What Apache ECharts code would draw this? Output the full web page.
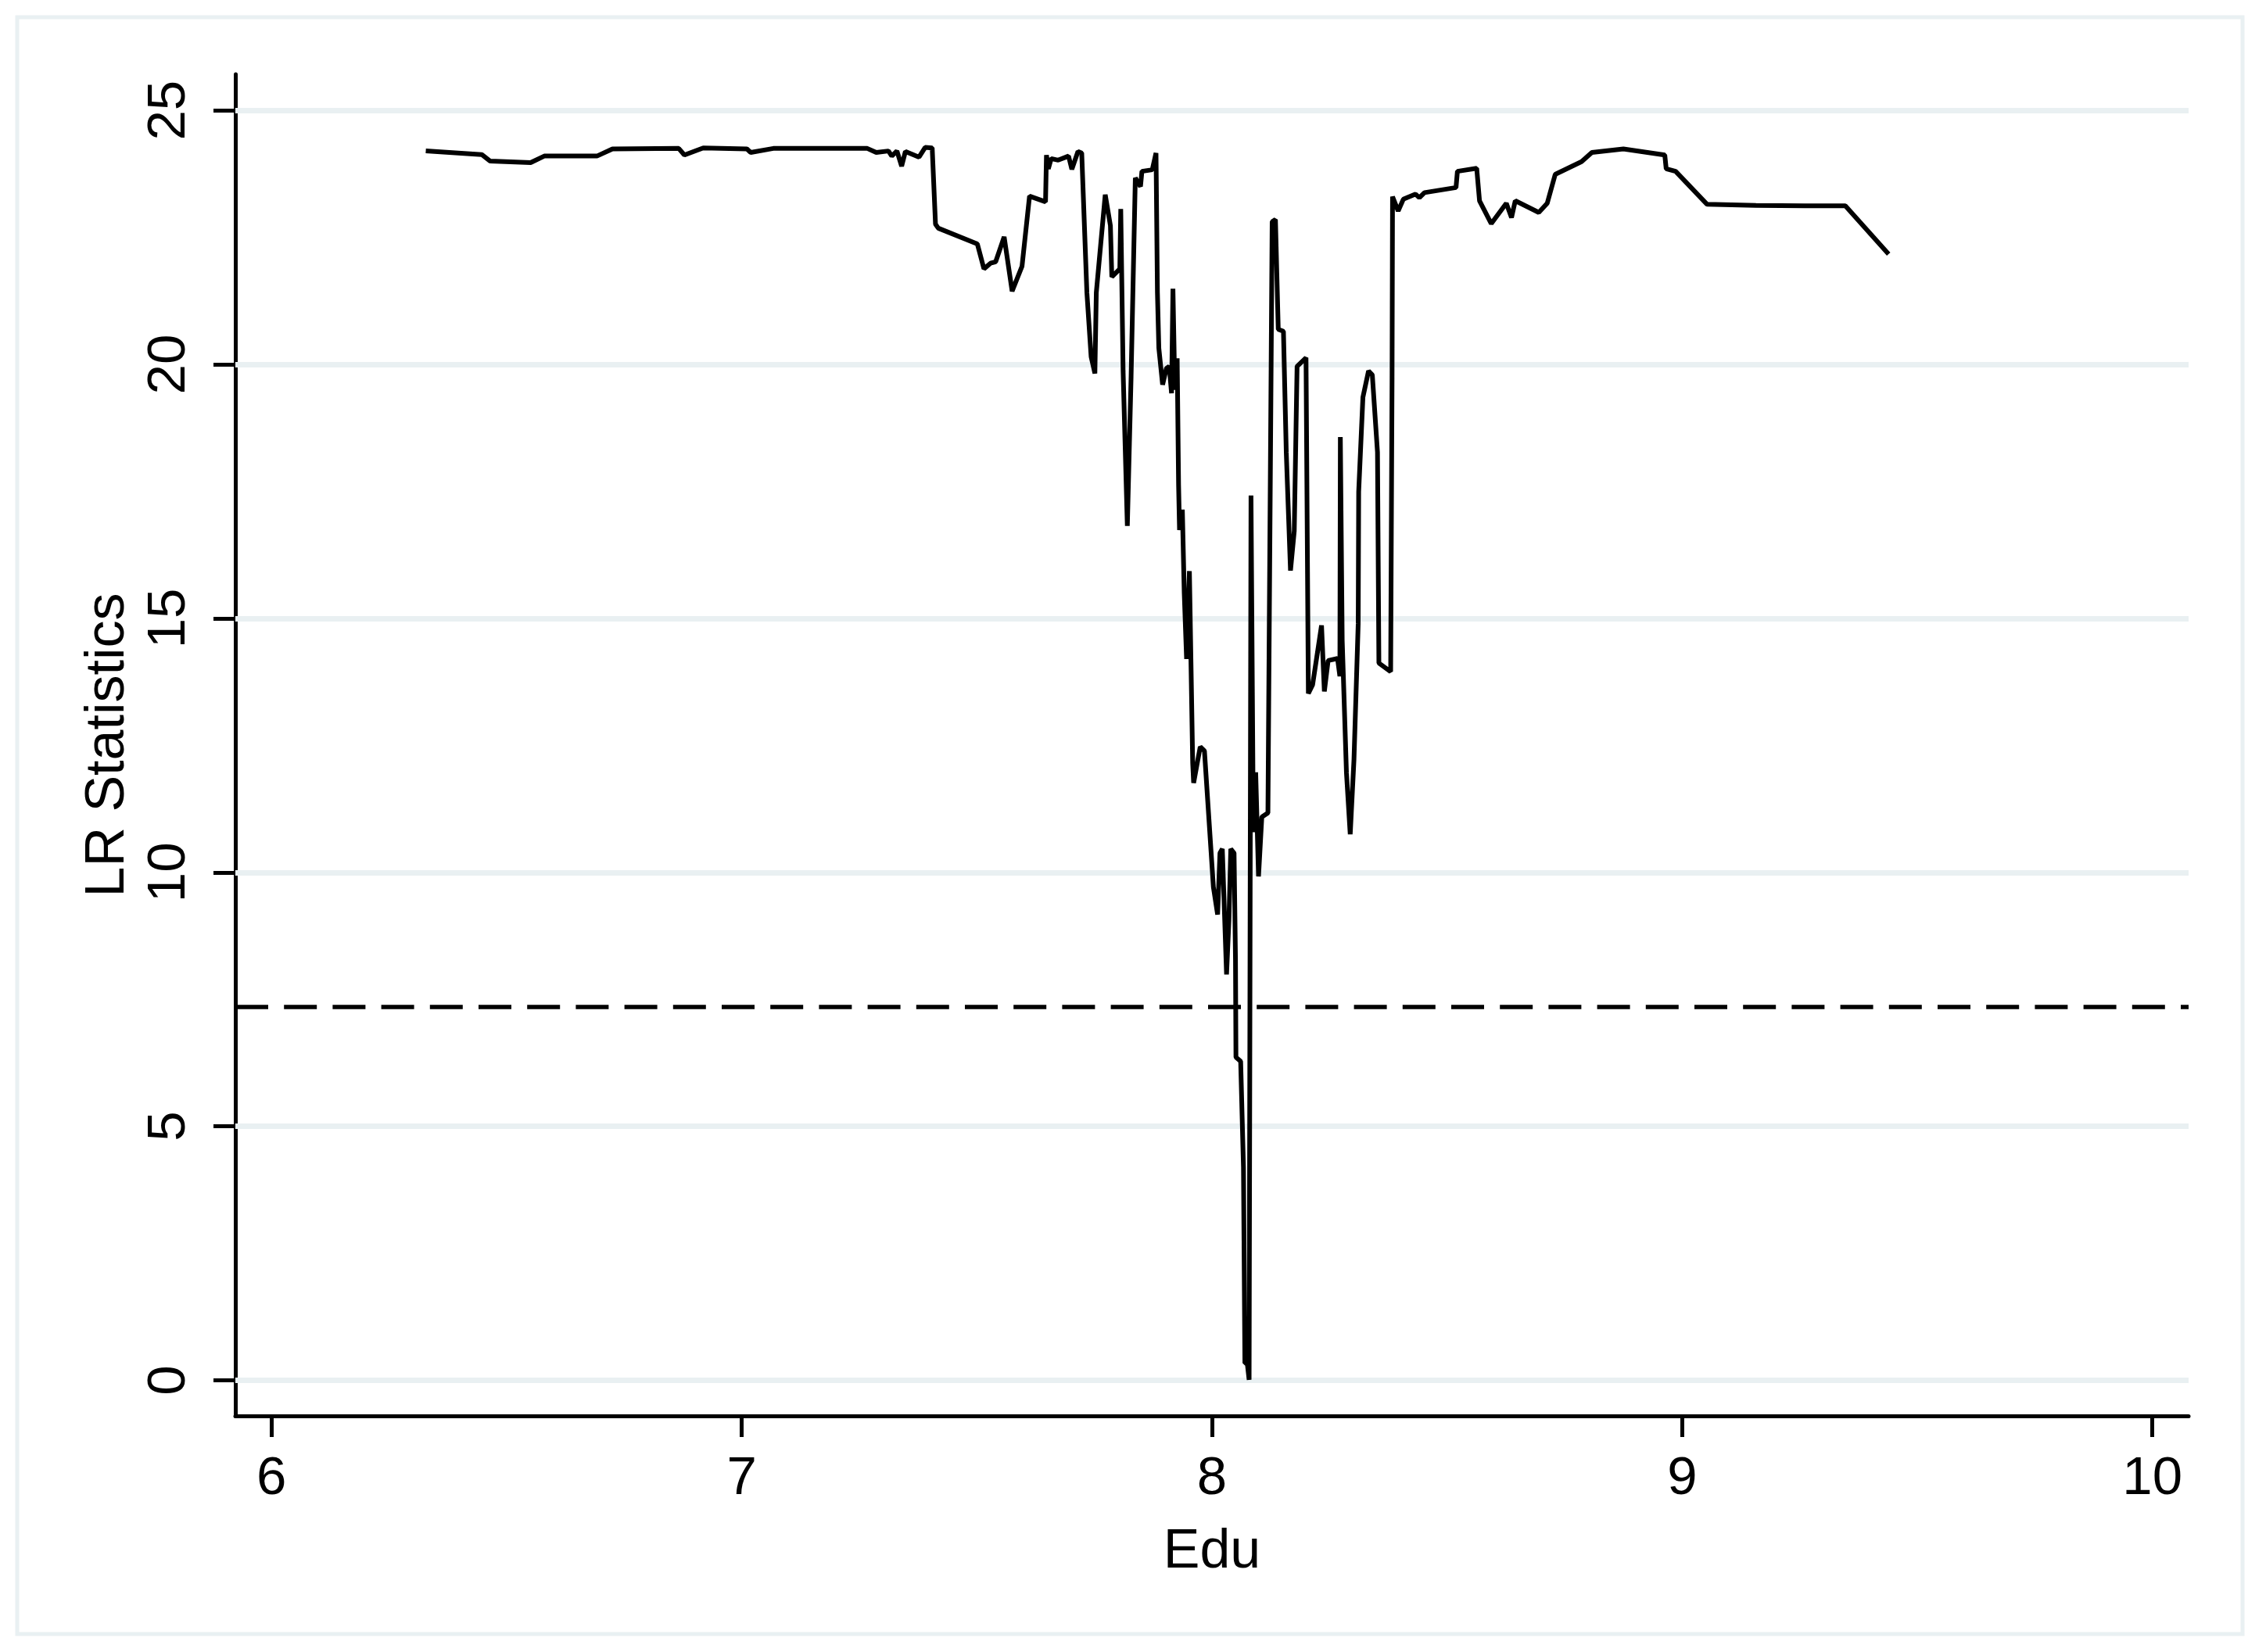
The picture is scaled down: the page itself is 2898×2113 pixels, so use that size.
<!DOCTYPE html>
<html>
<head>
<meta charset="utf-8">
<script src="https://cdn.jsdelivr.net/npm/echarts@6/dist/echarts.min.js"></script>
<style>
html,body{margin:0;padding:0;background:#fff;}
#chart{width:2898px;height:2113px;}
</style>
</head>
<body>
<div id="chart"></div>
<script>
// Threshold variable (Edu) and LR statistics
var eduValues = [6.328,6.447,6.465,6.551,6.580,6.692,6.725,6.866,6.878,6.918,7.011,7.019,7.067,7.267,7.286,7.312,7.319,7.330,7.340,7.348,7.377,7.390,7.405,7.412,7.418,7.501,7.515,7.529,7.540,7.558,7.575,7.596,7.612,7.646,7.648,7.652,7.658,7.673,7.695,7.702,7.715,7.723,7.734,7.743,7.751,7.754,7.773,7.784,7.787,7.804,7.806,7.811,7.820,7.828,7.837,7.848,7.851,7.873,7.881,7.884,7.887,7.895,7.903,7.909,7.914,7.917,7.921,7.926,7.929,7.931,7.937,7.941,7.946,7.952,7.959,7.961,7.975,7.984,7.998,8.003,8.012,8.017,8.022,8.031,8.036,8.040,8.047,8.050,8.051,8.061,8.067,8.070,8.075,8.079,8.083,8.088,8.093,8.099,8.106,8.119,8.128,8.135,8.139,8.141,8.152,8.158,8.167,8.175,8.181,8.200,8.205,8.214,8.233,8.239,8.247,8.267,8.272,8.273,8.277,8.286,8.294,8.302,8.311,8.312,8.321,8.333,8.341,8.352,8.355,8.380,8.383,8.384,8.396,8.407,8.433,8.441,8.452,8.519,8.522,8.563,8.569,8.594,8.626,8.637,8.645,8.695,8.713,8.730,8.786,8.808,8.875,8.963,8.966,8.986,9.053,9.157,9.261,9.347,9.439];
var lrValues = [24.20,24.13,24.00,23.97,24.10,24.10,24.24,24.25,24.12,24.26,24.24,24.17,24.25,24.25,24.17,24.20,24.10,24.20,23.90,24.19,24.08,24.27,24.26,22.76,22.68,22.37,21.88,21.99,22.02,22.51,21.44,21.93,23.31,23.20,24.12,23.85,24.05,24.02,24.10,23.84,24.19,24.16,21.41,20.15,19.82,21.41,23.34,22.73,21.72,21.88,23.06,19.87,16.82,19.76,23.67,23.50,23.80,23.83,24.16,21.41,20.32,19.60,19.92,19.96,19.43,21.49,19.50,20.12,17.62,16.74,17.14,15.50,14.20,15.93,12.15,11.76,12.47,12.39,10.42,9.71,9.17,10.38,10.46,7.99,9.04,10.46,10.38,8.29,6.36,6.28,4.19,0.34,0.34,0.01,17.42,10.79,11.97,9.92,11.09,11.17,22.81,22.85,21.39,20.69,20.65,18.27,15.94,16.72,19.96,20.13,13.52,13.69,14.86,13.56,14.17,14.21,13.86,18.57,14.56,11.96,10.75,12.22,14.90,17.49,19.35,19.87,19.79,18.27,14.12,13.95,19.74,23.30,23.02,23.25,23.35,23.28,23.38,23.48,23.80,23.86,23.22,22.77,23.17,22.89,23.22,22.99,23.17,23.74,23.99,24.17,24.24,24.12,23.85,23.80,23.15,23.13,23.12,23.12,22.17];
var criticalValue = 7.35;
var yTicks = [0, 5, 10, 15, 20, 25];
var xTicks = [6, 7, 8, 9, 10];
var xTitle = 'Edu';
var yTitle = 'LR Statistics';

var FONT = "'Liberation Sans', Arial, Helvetica, sans-serif";
var GRID_COLOR = '#E9F0F2';

var seriesData = eduValues.map(function (x, i) { return [x, lrValues[i]]; });

var chart = echarts.init(document.getElementById('chart'), null, {renderer: 'canvas'});
chart.setOption({
  backgroundColor: '#ffffff',
  animation: false,
  graphic: [{
    type: 'rect',
    shape: {x: 22, y: 22, width: 2846, height: 2068},
    style: {fill: 'none', stroke: GRID_COLOR, lineWidth: 5},
    silent: true,
    z: 0
  }],
  grid: {left: 301, right: 99, top: 95, bottom: 302, containLabel: false},
  xAxis: {
    type: 'value',
    min: 5.923,
    max: 10.077,
    name: xTitle,
    nameLocation: 'middle',
    nameGap: 140,
    nameTextStyle: {fontSize: 70, color: '#000', fontFamily: FONT},
    axisLine: {show: true, onZero: false, lineStyle: {color: '#000', width: 5}},
    axisTick: {show: true, customValues: xTicks, length: 27, lineStyle: {color: '#000', width: 5}},
    axisLabel: {show: true, customValues: xTicks, margin: 46, fontSize: 69, color: '#000', fontFamily: FONT},
    splitLine: {show: false}
  },
  yAxis: {
    type: 'value',
    min: -0.70,
    max: 25.71,
    name: yTitle,
    nameLocation: 'middle',
    nameRotate: 90,
    nameGap: 127,
    nameTextStyle: {fontSize: 70, color: '#000', fontFamily: FONT},
    axisLine: {show: true, onZero: false, lineStyle: {color: '#000', width: 5}},
    axisTick: {show: true, customValues: yTicks, length: 28, lineStyle: {color: '#000', width: 5}},
    axisLabel: {show: true, customValues: yTicks, rotate: 90, margin: 50, fontSize: 69, color: '#000', fontFamily: FONT},
    splitLine: {show: false}
  },
  series: [
    {
      name: 'grid',
      type: 'line',
      data: [],
      z: 1,
      silent: true,
      markLine: {
        silent: true,
        z: 1,
        symbol: ['none', 'none'],
        label: {show: false},
        lineStyle: {color: GRID_COLOR, width: 7, type: 'solid'},
        emphasis: {disabled: true},
        data: yTicks.map(function (v) { return {yAxis: v}; })
      }
    },
    {
      name: 'LR',
      type: 'line',
      data: seriesData,
      showSymbol: false,
      symbol: 'none',
      sampling: null,
      z: 3,
      lineStyle: {color: '#000', width: 6},
      markLine: {
        silent: true,
        z: 3,
        symbol: ['none', 'none'],
        label: {show: false},
        lineStyle: {color: '#000', width: 5.5, type: [42, 20.2]},
        emphasis: {disabled: true},
        data: [{yAxis: criticalValue}]
      }
    }
  ]
});
</script>
</body>
</html>
